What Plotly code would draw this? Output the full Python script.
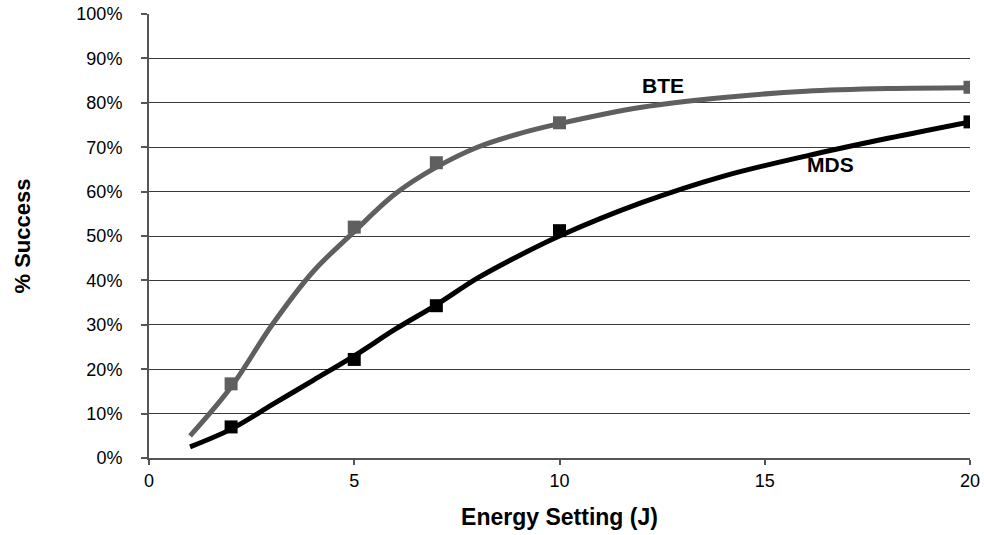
import plotly.graph_objects as go

# measured data points (markers)
energy = [2, 5, 7, 10, 20]
bte_pts = [0.167, 0.52, 0.665, 0.755, 0.835]
mds_pts = [0.07, 0.222, 0.343, 0.512, 0.757]

# fitted curves
curve_x = [1, 2, 3, 4, 5, 6, 7, 8, 9, 10, 12, 14, 16, 18, 20]
bte_curve = [0.05, 0.16, 0.30, 0.42, 0.51, 0.595, 0.655, 0.70, 0.73, 0.753, 0.79, 0.812, 0.826, 0.832, 0.834]
mds_curve = [0.025, 0.065, 0.12, 0.175, 0.23, 0.29, 0.345, 0.405, 0.455, 0.50, 0.575, 0.635, 0.68, 0.72, 0.757]

y_ticks = [i / 10 for i in range(11)]
y_tick_text = [f"{i*10}%" for i in range(11)]
x_ticks = [0, 5, 10, 15, 20]

BTE_COLOR = "#5f5f5f"
MDS_COLOR = "#000000"
FONT = "Liberation Sans, Arial, sans-serif"

fig = go.Figure()
fig.add_trace(go.Scatter(x=curve_x, y=bte_curve, mode="lines", line=dict(color=BTE_COLOR, width=5, shape="spline"), showlegend=False, hoverinfo="skip"))
fig.add_trace(go.Scatter(x=curve_x, y=mds_curve, mode="lines", line=dict(color=MDS_COLOR, width=5, shape="spline"), showlegend=False, hoverinfo="skip"))
fig.add_trace(go.Scatter(x=energy, y=bte_pts, mode="markers", marker=dict(symbol="square", size=13, color=BTE_COLOR), name="BTE", showlegend=False))
fig.add_trace(go.Scatter(x=energy, y=mds_pts, mode="markers", marker=dict(symbol="square", size=13, color=MDS_COLOR), name="MDS", showlegend=False))

fig.add_annotation(x=12.53, y=0.838, text="<b>BTE</b>", showarrow=False, font=dict(size=21, color="black", family=FONT))
fig.add_annotation(x=16.6, y=0.66, text="<b>MDS</b>", showarrow=False, font=dict(size=21, color="black", family=FONT))

fig.update_layout(
    width=984, height=535,
    margin=dict(l=149, r=14, t=14, b=77),
    plot_bgcolor="white", paper_bgcolor="white",
    font=dict(family=FONT, size=18, color="black"),
    showlegend=False,
)
fig.update_xaxes(
    range=[0, 20], tickvals=x_ticks, showgrid=False, zeroline=False,
    showline=True, linecolor="#555", linewidth=2,
    ticks="outside", ticklen=5, tickcolor="#555", tickwidth=2,
    automargin=False,
    tickfont=dict(size=18),
    title=dict(text="<b>Energy Setting (J)</b>", font=dict(size=23), standoff=19),
)
fig.update_yaxes(
    range=[0, 1.0], tickvals=y_ticks, ticktext=y_tick_text,
    showgrid=True, gridcolor="#3a3a3a", gridwidth=1, zeroline=False,
    showline=True, linecolor="#555", linewidth=2,
    ticks="outside", ticklen=6, tickcolor="#555", tickwidth=2,
    ticklabelstandoff=15, automargin=False,
    tickfont=dict(size=18),
    title=dict(text="<b>% Success</b>", font=dict(size=22), standoff=40),
)

fig.write_html("out.html", config={"displayModeBar": False},
               post_script="document.body.style.margin='0';")
